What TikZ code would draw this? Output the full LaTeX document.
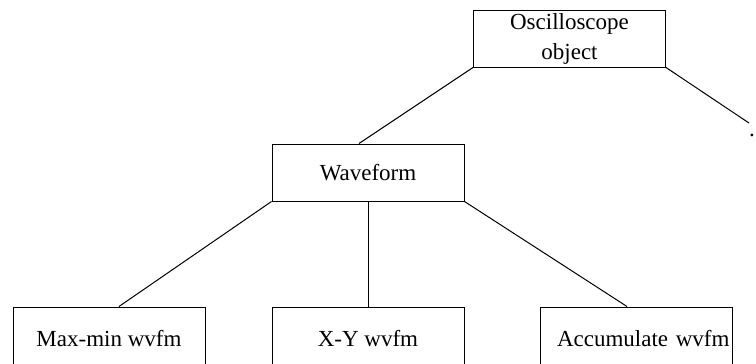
\documentclass[tikz,border=0pt]{standalone}
\usepackage{fontspec}
\setmainfont{Liberation Serif}

\begin{document}
\begin{tikzpicture}[x=0.5pt, y=-0.5pt, line width=0.5pt,
    every node/.style={font=\fontsize{11.5}{15}\selectfont},
    box/.style={draw, rectangle, minimum width=96pt, minimum height=28.5pt, inner sep=0pt, align=center},
    leaf/.style={box, minimum height=32pt}]
    \useasboundingbox (0,0) rectangle (756,364);
    \clip (0,0) rectangle (756,364);

    % top: the object
    \node [box] (osc) at (569.5,38.5) {Oscilloscope\\object};
    \coordinate (tail) at (749,123);
    \node [inner sep=0pt] (dot) at (752,135) {.};

    % middle
    \node [box] (wave) at (368,172.5) {Waveform};

    % bottom row, cut by the page edge
    \node [leaf] (maxmin) at (109,339) {Max-min wvfm};
    \node [leaf] (xy)     at (368,339) {X-Y wvfm};
    \node [leaf, text width=93pt, inner xsep=1pt, align=right] (accum) at (636.5,339) {Accumulate wvfm};

    % tree lines
    \draw (osc.south west) -- ([xshift=-4.5pt]wave.north);
    \draw (osc.south east) -- (tail);
    \draw (wave.south west) -- ([xshift=5pt]maxmin.north);
    \draw (wave.south) -- (xy.north);
    \draw (wave.south east) -- ([xshift=-4.75pt]accum.north);
\end{tikzpicture}
\end{document}
